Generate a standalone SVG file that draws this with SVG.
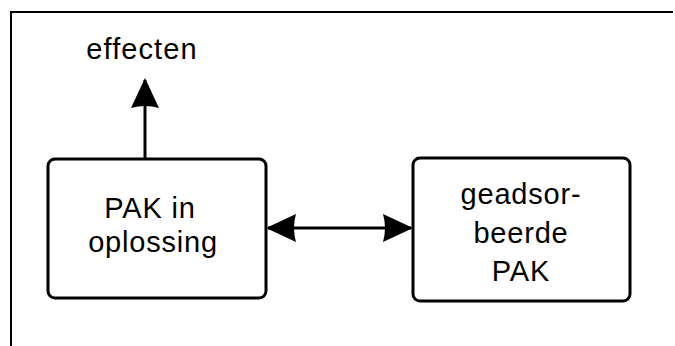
<svg xmlns="http://www.w3.org/2000/svg" width="675" height="346" viewBox="0 0 675 346">
<style>
.frame{fill:none;stroke:#000;stroke-width:2}
.box{fill:#fff;stroke:#000;stroke-width:3}
.lbl{font-family:"Liberation Sans",Arial,sans-serif;font-size:29px;letter-spacing:0.8px;fill:#000;text-anchor:middle}
.conn{stroke:#000;stroke-width:3;fill:none}
</style>
<defs>
<marker id="ah" viewBox="0 0 30 30" refX="28" refY="15" markerWidth="30" markerHeight="30" markerUnits="userSpaceOnUse" orient="auto-start-reverse">
<path d="M0,1 L30,15 L0,29 Q4,15 0,1 Z" fill="#000"/>
</marker>
</defs>
<rect width="675" height="346" fill="#fff"/>
<path class="frame" d="M11,346 V12 H673"/>
<g id="effecten"><text class="lbl" x="142" y="59" style="letter-spacing:1.1px">effecten</text></g>
<g id="pak-oplossing">
<rect class="box" x="48" y="159" width="218" height="139" rx="7"/>
<text class="lbl" x="150" y="218">PAK in</text>
<text class="lbl" x="153" y="252">oplossing</text>
</g>
<g id="pak-geadsorbeerd">
<rect class="box" x="413" y="158" width="217" height="143" rx="7"/>
<text class="lbl" x="521" y="204">geadsor-</text>
<text class="lbl" x="521" y="243">beerde</text>
<text class="lbl" x="521" y="281">PAK</text>
</g>
<g id="connectors">
<line class="conn" x1="145" y1="159" x2="145" y2="80" marker-end="url(#ah)"/>
<line class="conn" x1="268" y1="228" x2="411" y2="228" marker-start="url(#ah)" marker-end="url(#ah)"/>
</g>
</svg>
